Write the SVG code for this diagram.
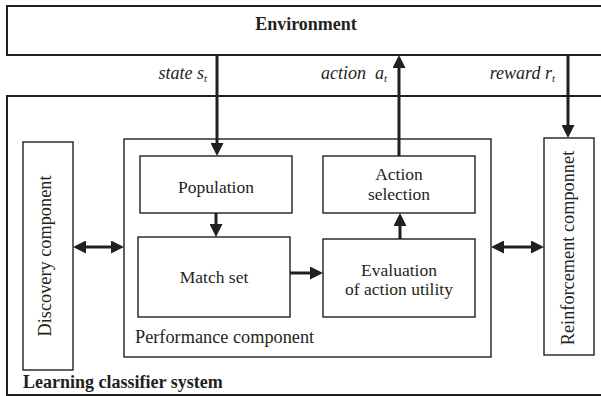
<svg xmlns="http://www.w3.org/2000/svg" width="601" height="396" viewBox="0 0 601 396">
<style>
.box{fill:#fff;stroke:#231f20;stroke-width:1.4}
.big{fill:none;stroke:#231f20;stroke-width:2}
text{font-family:'Liberation Serif',serif;fill:#231f20}
.t{font-size:17.5px}
.p{font-size:18.3px}
.b{font-size:18px;font-weight:bold}
.i{font-size:18px;font-style:italic}
.c{text-anchor:middle}
.e{text-anchor:end}
.sub{font-size:11px}
.arr{stroke:#231f20;stroke-width:3;fill:none;marker-end:url(#ah)}
.dbl{stroke:#231f20;stroke-width:3;fill:none;marker-end:url(#ah);marker-start:url(#ah)}
</style>
<defs>
<marker id="ah" markerUnits="userSpaceOnUse" markerWidth="13" markerHeight="13" viewBox="0 0 13 13" refX="9" refY="6.5" orient="auto-start-reverse">
<path d="M0,0 L13,6.5 L0,13 z" fill="#231f20"/>
</marker>
</defs>
<rect width="601" height="396" fill="#fff"/>
<g id="environment">
<rect class="big" x="7" y="6" width="600" height="49"/>
<text class="b c" x="306" y="30">Environment</text>
</g>
<g id="lcs">
<rect class="big" x="7" y="96" width="600" height="299"/>
<text class="b" x="23" y="388">Learning classifier system</text>
</g>
<g id="discovery">
<rect class="box" x="23" y="142" width="50" height="228"/>
<text class="p c" transform="translate(51,256) rotate(-90)">Discovery component</text>
</g>
<g id="performance">
<rect class="box" x="124" y="139" width="367" height="218"/>
<text class="p" x="135" y="343">Performance component</text>
</g>
<g id="population">
<rect class="box" x="140" y="156" width="152" height="57"/>
<text class="t c" x="216" y="193">Population</text>
</g>
<g id="matchset">
<rect class="box" x="138" y="237" width="152" height="80"/>
<text class="t c" x="214" y="283">Match set</text>
</g>
<g id="actionselection">
<rect class="box" x="323" y="156" width="152" height="57"/>
<text class="t c" x="399" y="180">Action</text>
<text class="t c" x="399" y="200">selection</text>
</g>
<g id="evaluation">
<rect class="box" x="323" y="239" width="152" height="78"/>
<text class="t c" x="399" y="276">Evaluation</text>
<text class="t c" x="399" y="295">of action utility</text>
</g>
<g id="reinforcement">
<rect class="box" x="544" y="138" width="50" height="217"/>
<text class="p c" transform="translate(574,248) rotate(-90)">Reinforcement componnet</text>
</g>
<g id="connectors">
<line class="arr" x1="217" y1="55" x2="217" y2="152"/>
<line class="arr" x1="399" y1="156" x2="399" y2="59"/>
<line class="arr" x1="568" y1="55" x2="568" y2="134"/>
<line class="arr" x1="216" y1="213" x2="216" y2="233"/>
<line class="arr" x1="290" y1="273" x2="319" y2="273"/>
<line class="arr" x1="400" y1="239" x2="400" y2="217"/>
<line class="dbl" x1="77" y1="247" x2="120" y2="247"/>
<line class="dbl" x1="495" y1="247" x2="540" y2="247"/>
<text class="i e" x="207" y="79">state s<tspan class="sub" dy="3">t</tspan></text>
<text class="i e" x="387" y="79" xml:space="preserve">action  a<tspan class="sub" dy="3">t</tspan></text>
<text class="i e" x="555" y="79">reward r<tspan class="sub" dy="3">t</tspan></text>
</g>
</svg>
